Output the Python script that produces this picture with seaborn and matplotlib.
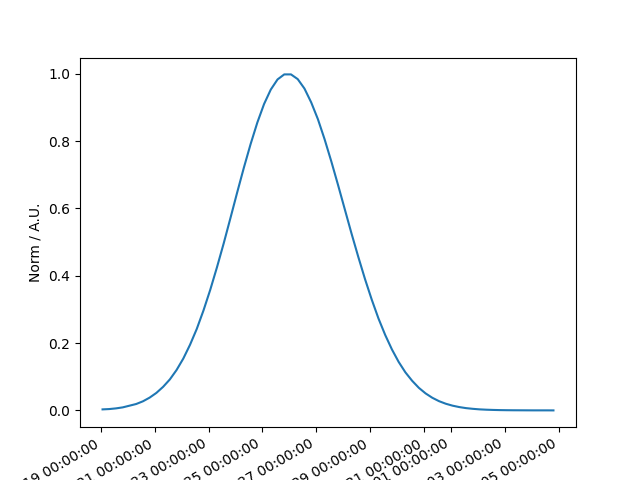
import matplotlib
matplotlib.use("Agg")
import matplotlib.pyplot as plt
import matplotlib.dates as mdates
import pandas as pd
import seaborn as sns

# Samples every 6 hours, starting 2023-01-19 01:30
start = "2023-01-19 01:30"
step = "6h"
# Normalised values
norm = [
    0.003, 0.004, 0.006, 0.009, 0.014, 0.019, 0.027, 0.038,
    0.052, 0.070, 0.092, 0.120, 0.154, 0.195, 0.242, 0.297,
    0.358, 0.425, 0.496, 0.571, 0.647, 0.721, 0.791, 0.855,
    0.910, 0.953, 0.983, 0.998, 0.998, 0.984, 0.956, 0.915,
    0.865, 0.805, 0.739, 0.669, 0.597, 0.525, 0.456, 0.390,
    0.329, 0.273, 0.224, 0.181, 0.144, 0.113, 0.088, 0.067,
    0.0505, 0.0375, 0.0274, 0.0198, 0.0141, 0.0099, 0.0068, 0.0047,
    0.0031, 0.0021, 0.0014, 0.0009, 0.0006, 0.0004, 0.0003, 0.0002,
    0.0001, 0.0001, 0.0001, 0.0,
]

df = pd.DataFrame({
    "time": pd.date_range(start, periods=len(norm), freq=step),
    "norm": norm,
})

fig, ax = plt.subplots(figsize=(6.4, 4.8), dpi=100)
sns.lineplot(x="time", y="norm", data=df, ax=ax, color="#1f77b4", linewidth=1.5)

ax.xaxis.set_major_locator(mdates.DayLocator(bymonthday=range(1, 32, 2)))
ax.xaxis.set_major_formatter(mdates.DateFormatter("%Y-%m-%d %H:%M:%S"))
plt.setp(ax.get_xticklabels(), rotation=30, ha="right")
ax.set_xlabel("")
ax.set_ylabel("Norm / A.U.")

plt.savefig("out.png")
